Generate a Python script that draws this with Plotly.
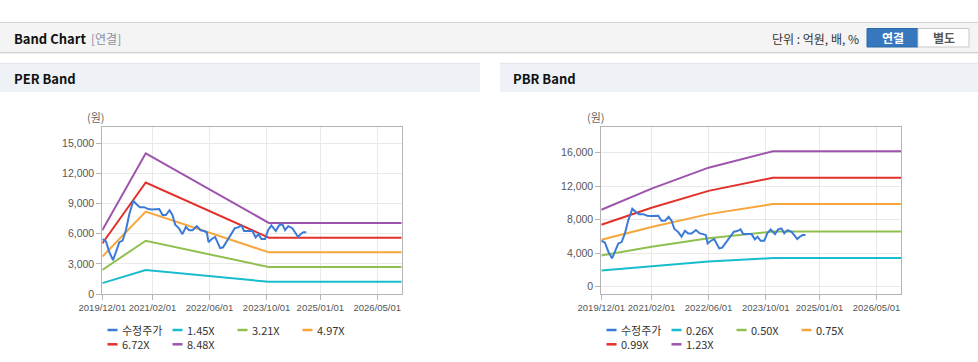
import plotly.graph_objects as go

W, H = 978, 362

# ---------------- data ----------------
price_dates = [
    "2019-12-01", "2020-01-01", "2020-01-30", "2020-03-01", "2020-03-26", "2020-04-24",
    "2020-05-22", "2020-06-19", "2020-07-18", "2020-08-21", "2020-09-18", "2020-10-16",
    "2020-11-22", "2020-12-26", "2021-01-27", "2021-03-02", "2021-03-30", "2021-04-27",
    "2021-05-26", "2021-06-26", "2021-07-21", "2021-08-13", "2021-09-16", "2021-10-14",
    "2021-11-12", "2021-12-10", "2022-01-08", "2022-02-13", "2022-03-19", "2022-04-17",
    "2022-05-09", "2022-05-24", "2022-06-21", "2022-07-19", "2022-08-14", "2022-08-31",
    "2022-09-25", "2022-10-27", "2022-11-30", "2023-01-03", "2023-01-31", "2023-02-28",
    "2023-03-23", "2023-04-26", "2023-06-02", "2023-06-30", "2023-07-23", "2023-08-18",
    "2023-09-18", "2023-10-13", "2023-11-11", "2023-12-18", "2024-01-15", "2024-02-12",
    "2024-03-06", "2024-04-03", "2024-05-07", "2024-05-30", "2024-06-25", "2024-07-17",
    "2024-08-09", "2024-09-03",
]
price_values = [
    5480, 5240, 4170, 3380, 4170, 5160,
    5320, 6350, 7940, 9290, 8930, 8650,
    8650, 8460, 8420, 8460, 8460, 7860,
    7860, 8340, 7860, 6910, 6510, 5960,
    6670, 6350, 6350, 6750, 6350, 6270,
    6150, 5160, 5480, 5680, 5080, 4570,
    4650, 5240, 5960, 6550, 6630, 6830,
    6270, 6270, 6270, 5640, 5960, 5480,
    5480, 6350, 6830, 6270, 6830, 6950,
    6350, 6750, 6550, 6150, 5680, 5960,
    6150, 6150,
]
price_name = "수정주가"

per_dates = ["2019-12-01", "2020-12-05", "2023-10-20", "2026-11-25"]
per_names = ["1.45X", "3.21X", "4.97X", "6.72X", "8.48X"]
per_145 = [1085, 2395, 1211, 1211]
per_321 = [2401, 5303, 2680, 2680]
per_497 = [3718, 8210, 4150, 4150]
per_672 = [5027, 11101, 5611, 5611]
per_848 = [6343, 14009, 7081, 7081]

pbr_dates = ["2019-12-01", "2021-02-01", "2022-06-01", "2023-10-01", "2023-12-01", "2026-11-25"]
pbr_names = ["0.26X", "0.50X", "0.75X", "0.99X", "1.23X"]
pbr_026 = [1937, 2470, 2999, 3359, 3414, 3414]
pbr_050 = [3725, 4750, 5768, 6460, 6565, 6565]
pbr_075 = [5588, 7125, 8651, 9690, 9848, 9848]
pbr_099 = [7376, 9405, 11420, 12791, 12999, 12999]
pbr_123 = [9164, 11685, 14188, 15892, 16150, 16150]

x_ticks = ["2019-12-01", "2021-02-01", "2022-06-01", "2023-10-01", "2025-01-01", "2026-05-01"]
x_tick_text = ["2019/12/01", "2021/02/01", "2022/06/01", "2023/10/01", "2025/01/01", "2026/05/01"]
per_y_ticks = [0, 3000, 6000, 9000, 12000, 15000]
pbr_y_ticks = [0, 4000, 8000, 12000, 16000]

# ---------------- style ----------------
price_color = "#3b7ad6"
band_colors = ["#19bccd", "#8fc04f", "#f7a63c", "#e2312b", "#9d54ad"]
KFONT = "Noto Sans CJK KR, Noto Sans, sans-serif"
NFONT = "Liberation Sans, Arial, sans-serif"


def px(x):
    return x / W


def py(y):
    return 1 - y / H


fig = go.Figure()

per_bands = [per_145, per_321, per_497, per_672, per_848]
pbr_bands = [pbr_026, pbr_050, pbr_075, pbr_099, pbr_123]

for vals, name, col in zip(per_bands, per_names, band_colors):
    fig.add_trace(go.Scatter(x=per_dates, y=vals, name=name, mode="lines",
                             line=dict(color=col, width=2), xaxis="x", yaxis="y",
                             showlegend=False))
fig.add_trace(go.Scatter(x=price_dates, y=price_values, name=price_name, mode="lines",
                         line=dict(color=price_color, width=2), xaxis="x", yaxis="y",
                         showlegend=False))

for vals, name, col in zip(pbr_bands, pbr_names, band_colors):
    fig.add_trace(go.Scatter(x=pbr_dates, y=vals, name=name, mode="lines",
                             line=dict(color=col, width=2), xaxis="x2", yaxis="y2",
                             showlegend=False))
fig.add_trace(go.Scatter(x=price_dates, y=price_values, name=price_name, mode="lines",
                         line=dict(color=price_color, width=2), xaxis="x2", yaxis="y2",
                         showlegend=False))

xrange_ = ["2019-12-01", "2026-11-25"]
common_x = dict(type="date", range=xrange_, tickvals=x_ticks, ticktext=x_tick_text,
                tickangle=0,
                showgrid=True, gridcolor="#e9e9e9", gridwidth=1,
                showline=True, linecolor="#b4b4b4", linewidth=1, mirror=True,
                ticks="outside", ticklen=5, tickcolor="#b4b4b4",
                tickfont=dict(family=NFONT, size=9.5, color="#555555"),
                zeroline=False, fixedrange=True)
common_y = dict(showgrid=True, gridcolor="#e9e9e9", gridwidth=1,
                showline=True, linecolor="#b4b4b4", linewidth=1, mirror=True,
                ticks="outside", ticklen=5, tickcolor="#b4b4b4", tickformat=",d",
                tickfont=dict(family=NFONT, size=10.5, color="#555555"),
                zeroline=False, fixedrange=True)

ydom = [py(294), py(127.3)]
fig.update_layout(
    width=W, height=H,
    margin=dict(l=0, r=0, t=0, b=0, autoexpand=False),
    paper_bgcolor="white", plot_bgcolor="white",
    showlegend=False,
    xaxis=dict(domain=[px(102.3), px(401.7)], anchor="y", **common_x),
    yaxis=dict(domain=ydom, anchor="x", range=[0, 16600], tickvals=per_y_ticks, **common_y),
    xaxis2=dict(domain=[px(601.3), px(901)], anchor="y2", **common_x),
    yaxis2=dict(domain=ydom, anchor="x2", range=[-870, 19000], tickvals=pbr_y_ticks, **common_y),
)

shapes = []
anns = []


def rect(x0, y0, x1, y1, fill, line_color=None, lw=0, layer="below"):
    shapes.append(dict(type="rect", xref="paper", yref="paper",
                       x0=px(x0), x1=px(x1), y0=py(y1), y1=py(y0),
                       fillcolor=fill, layer=layer,
                       line=dict(width=lw, color=line_color or fill)))


def hline(x0, x1, y, color, lw=1):
    shapes.append(dict(type="line", xref="paper", yref="paper",
                       x0=px(x0), x1=px(x1), y0=py(y), y1=py(y),
                       line=dict(color=color, width=lw)))


def text(x, y, s, size=12, color="#333333", bold=False, anchor="left", family=KFONT):
    if bold:
        s = "<b>" + s + "</b>"
    anns.append(dict(xref="paper", yref="paper", x=px(x), y=py(y), text=s,
                     showarrow=False, xanchor=anchor, yanchor="middle", align="left",
                     font=dict(family=family, size=size, color=color)))


# top header bar
rect(0, 22, 978, 52, "#f4f4f4")
hline(0, 978, 22.5, "#d6d6d6")
hline(0, 978, 52.5, "#d0d0d0")
hline(0, 978, 53.5, "#ececec")
text(12, 38.5, "Band Chart", size=13, color="#111111", bold=True)
text(89, 38.5, "[연결]", size=12, color="#8a90a0")
text(861, 38.5, "단위 : 억원, 배, %", size=12, color="#333333", anchor="right")
rect(867, 28.5, 918, 47, "#3777bd", "#2d68a8", 1)
rect(918, 28.5, 969, 47, "#ffffff", "#c9c9c9", 1)
text(892.5, 38, "연결", size=12, color="#ffffff", bold=True, anchor="center")
text(943.5, 38, "별도", size=12, color="#555555", bold=True, anchor="center")

# panel headers
rect(0, 63, 480, 92, "#eef2f7")
hline(0, 480, 63.3, "#dfe3e9")
rect(500, 63, 978, 92, "#eef2f7")
hline(500, 978, 63.3, "#dfe3e9")
text(12, 78.5, "PER Band", size=13, color="#111111", bold=True)
text(511, 78.5, "PBR Band", size=13, color="#111111", bold=True)

# unit labels
text(96, 117, "(원)", size=11, color="#666666", anchor="center")
text(596, 117, "(원)", size=11, color="#666666", anchor="center")


# custom legends: 4 columns, two rows; each column is one (possibly two-line) text
def legend(base_x, names, colors):
    row_y = [330, 344.3]
    ncol = 4
    for col in range(ncol):
        idx = [i for i in range(len(names)) if i % ncol == col]
        lx = base_x + col * 65
        for r, i in enumerate(idx):
            hline(lx, lx + 10, row_y[r], colors[i], lw=2.5)
        label = "<br>".join(names[i] for i in idx)
        yc = sum(row_y[:len(idx)]) / len(idx)
        text(lx + 12, yc, label, size=11, color="#333333")


legend(107.5, [price_name] + per_names, [price_color] + band_colors)
legend(606.5, [price_name] + pbr_names, [price_color] + band_colors)

fig.update_layout(shapes=shapes, annotations=anns)
fig.write_html("out.html",
               config={"displayModeBar": False},
               post_script="document.body.style.margin='0';document.body.style.overflow='hidden';")
